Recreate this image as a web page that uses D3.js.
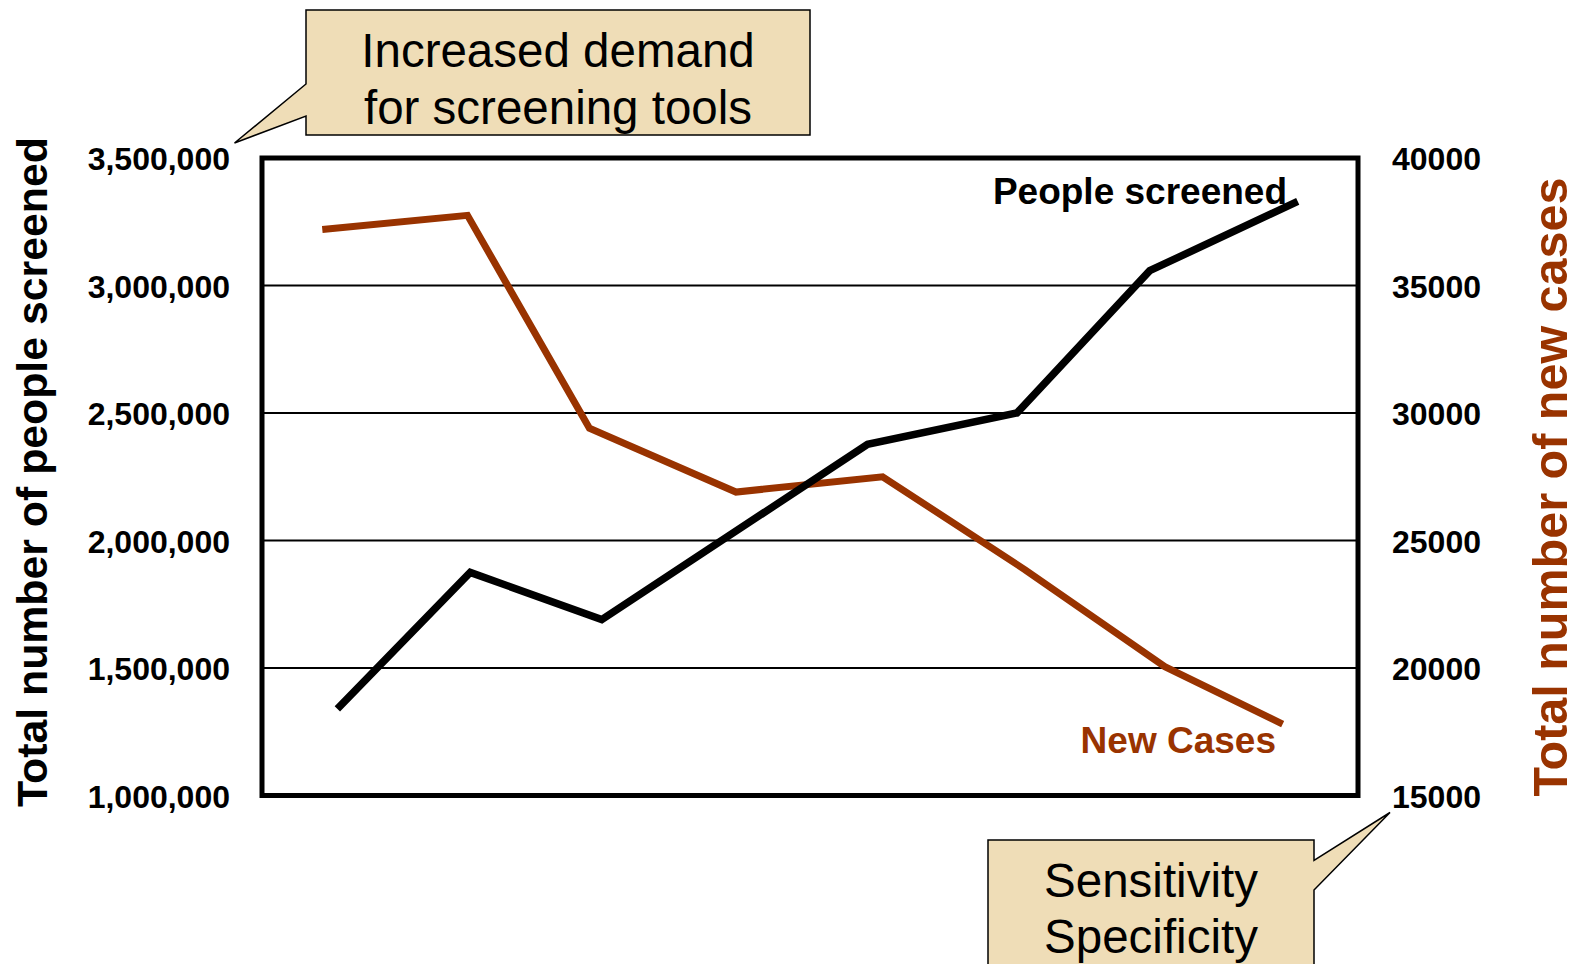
<!DOCTYPE html>
<html>
<head>
<meta charset="utf-8">
<script src="https://cdn.jsdelivr.net/npm/d3@7"></script>
<style>
  html, body { margin: 0; padding: 0; background: #ffffff; }
  svg { display: block; }
  text { font-family: "Liberation Sans", Arial, sans-serif; }
</style>
</head>
<body>
<svg id="chart" width="1579" height="964"></svg>
<script>
// ---- data ----
const screenedTime   = [0.55, 1.52, 2.48, 4.42, 5.51, 6.48, 7.56];
const screenedValues = [1340000, 1875000, 1690000, 2377000, 2500000, 3058000, 3330000];
const casesTime      = [0.44, 1.50, 2.39, 3.46, 4.53, 5.57, 6.59, 7.45];
const casesValues    = [37200, 37750, 29400, 26900, 27500, 23850, 20050, 17800];
const leftTicks  = [1000000, 1500000, 2000000, 2500000, 3000000, 3500000];
const rightTicks = [15000, 20000, 25000, 30000, 35000, 40000];
const leftTitle  = "Total number of people screened";
const rightTitle = "Total number of new cases";
const screenedLabel = "People screened";
const casesLabel    = "New Cases";
const callout1Lines = ["Increased demand", "for screening tools"];
const callout2Lines = ["Sensitivity", "Specificity"];

// ---- layout ----
const plot = { left: 262, right: 1358, top: 158, bottom: 795.5 };
const RED = "#993300";
const TAN = "#EFDDB7";

const svg = d3.select("#chart");

const x = d3.scaleLinear().domain([0, 8]).range([plot.left, plot.right]);
const yL = d3.scaleLinear().domain([1000000, 3500000]).range([plot.bottom, plot.top]);
const yR = d3.scaleLinear().domain([15000, 40000]).range([plot.bottom, plot.top]);

// gridlines
svg.append("g")
  .selectAll("line")
  .data(leftTicks.slice(1, -1))
  .join("line")
  .attr("x1", plot.left).attr("x2", plot.right)
  .attr("y1", d => yL(d)).attr("y2", d => yL(d))
  .attr("stroke", "#000").attr("stroke-width", 2);

// left axis labels
const leftAxis = d3.axisLeft(yL).tickValues(leftTicks).tickSize(0).tickPadding(0)
  .tickFormat(d3.format(","));
const gL = svg.append("g").attr("transform", `translate(230,0)`).call(leftAxis);
gL.select(".domain").remove();
gL.selectAll("text")
  .attr("font-family", "'Liberation Sans', Arial, sans-serif")
  .attr("font-size", 32).attr("font-weight", "bold").attr("fill", "#000")
  .attr("dy", "0.36em");

// right axis labels
const rightAxis = d3.axisRight(yR).tickValues(rightTicks).tickSize(0).tickPadding(0)
  .tickFormat(d3.format("d"));
const gR = svg.append("g").attr("transform", `translate(1392,0)`).call(rightAxis);
gR.select(".domain").remove();
gR.selectAll("text")
  .attr("font-family", "'Liberation Sans', Arial, sans-serif")
  .attr("font-size", 32).attr("font-weight", "bold").attr("fill", "#000")
  .attr("dy", "0.36em");

// lines
const screenedData = screenedTime.map((t, i) => ({ t, v: screenedValues[i] }));
const casesData = casesTime.map((t, i) => ({ t, v: casesValues[i] }));

svg.append("path")
  .datum(casesData)
  .attr("fill", "none").attr("stroke", RED).attr("stroke-width", 7)
  .attr("stroke-linejoin", "miter").attr("stroke-linecap", "butt")
  .attr("d", d3.line().x(d => x(d.t)).y(d => yR(d.v)));

svg.append("path")
  .datum(screenedData)
  .attr("fill", "none").attr("stroke", "#000").attr("stroke-width", 7.5)
  .attr("stroke-linejoin", "miter").attr("stroke-linecap", "butt")
  .attr("d", d3.line().x(d => x(d.t)).y(d => yL(d.v)));

// frame
svg.append("rect")
  .attr("x", plot.left).attr("y", plot.top)
  .attr("width", plot.right - plot.left).attr("height", plot.bottom - plot.top)
  .attr("fill", "none").attr("stroke", "#000").attr("stroke-width", 5);

// series labels
svg.append("text")
  .attr("x", 1287).attr("y", 204)
  .attr("text-anchor", "end").attr("font-size", 37).attr("font-weight", "bold")
  .attr("fill", "#000").text(screenedLabel);
svg.append("text")
  .attr("x", 1276).attr("y", 753)
  .attr("text-anchor", "end").attr("font-size", 37).attr("font-weight", "bold")
  .attr("fill", RED).text(casesLabel);

// axis titles
svg.append("text")
  .attr("transform", "translate(47,472) rotate(-90)")
  .attr("text-anchor", "middle").attr("font-size", 42.8).attr("font-weight", "bold")
  .attr("fill", "#000").text(leftTitle);
svg.append("text")
  .attr("transform", "translate(1567,487) rotate(-90)")
  .attr("text-anchor", "middle").attr("font-size", 48.5).attr("font-weight", "bold")
  .attr("fill", RED).text(rightTitle);

// callout 1 (top-left)
const c1 = d3.path();
c1.moveTo(306, 10); c1.lineTo(810, 10); c1.lineTo(810, 135); c1.lineTo(306, 135);
c1.lineTo(306, 116); c1.lineTo(234.5, 143); c1.lineTo(306, 84); c1.closePath();
svg.append("path").attr("d", c1.toString())
  .attr("fill", TAN).attr("stroke", "#000").attr("stroke-width", 1.5);
svg.append("g").selectAll("text").data(callout1Lines).join("text")
  .attr("x", 558).attr("y", (d, i) => 66.7 + i * 57.5)
  .attr("text-anchor", "middle").attr("font-size", 47.5).attr("fill", "#000")
  .text(d => d);

// callout 2 (bottom-right)
const c2 = d3.path();
c2.moveTo(988, 840); c2.lineTo(1314, 840); c2.lineTo(1314, 860.5); c2.lineTo(1390, 812.5);
c2.lineTo(1314, 890); c2.lineTo(1314, 990); c2.lineTo(988, 990); c2.closePath();
svg.append("path").attr("d", c2.toString())
  .attr("fill", TAN).attr("stroke", "#000").attr("stroke-width", 1.5);
svg.append("g").selectAll("text").data(callout2Lines).join("text")
  .attr("x", 1151).attr("y", (d, i) => 897 + i * 56)
  .attr("text-anchor", "middle").attr("font-size", 47.5).attr("fill", "#000")
  .text(d => d);
</script>
</body>
</html>
